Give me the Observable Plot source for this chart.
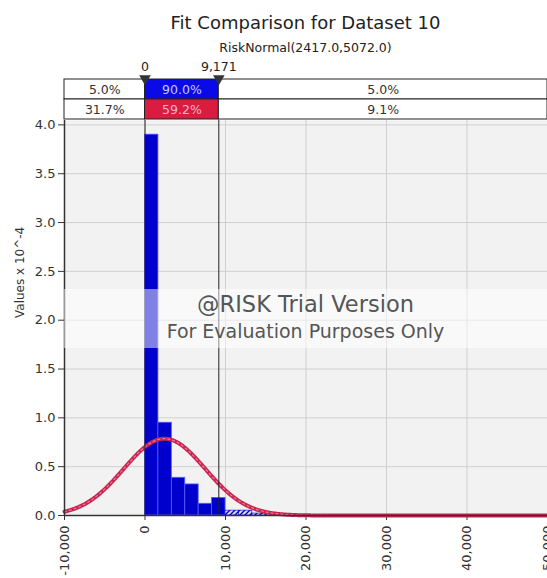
<!DOCTYPE html>
<html>
<head>
<meta charset="utf-8">
<script src="https://cdn.jsdelivr.net/npm/d3@7"></script>
<script src="https://cdn.jsdelivr.net/npm/@observablehq/plot@0.6"></script>
<style>
  html, body { margin: 0; padding: 0; background: #fff; }
  #chart { position: relative; width: 547px; height: 578px; overflow: hidden; font-family: "DejaVu Sans", sans-serif; }
  .abs { position: absolute; line-height: 1; white-space: nowrap; }
  .center { left: 64px; width: 483px; text-align: center; }
  #title { top: 14px; font-size: 18px; color: #222; }
  #subtitle { top: 42px; font-size: 12.5px; color: #222; }
  #strip { position: absolute; left: 0; top: 57px; }
  #main { position: absolute; left: 0; top: 120px; }
  #band { position: absolute; left: 64px; top: 289px; width: 483px; height: 59px; background: rgba(255,255,255,0.5); }
  #wm1 { top: 293px; font-size: 22.5px; color: #555; }
  #wm2 { top: 322px; font-size: 19px; color: #555; }
</style>
</head>
<body>
<div id="chart">
  <div id="title" class="abs center">Fit Comparison for Dataset 10</div>
  <div id="subtitle" class="abs center">RiskNormal(2417.0,5072.0)</div>
  <div id="strip"></div>
  <div id="main"></div>
  <div id="band"></div>
  <div id="wm1" class="abs center">@RISK Trial Version</div>
  <div id="wm2" class="abs center">For Evaluation Purposes Only</div>
</div>
<script>
// x extent and tick values
const xDomain = [-10000, 50000];
const xTicks = [-10000, 0, 10000, 20000, 30000, 40000, 50000];
const yTicks = [0, 0.5, 1.0, 1.5, 2.0, 2.5, 3.0, 3.5, 4.0];

// histogram of the input data (density, in units of 10^-4)
const binStart = 0;
const binWidth = 1667;
const binDensity = [3.90, 0.95, 0.386, 0.318, 0.12, 0.18, 0.05, 0.05, 0.02, 0.02];

// fitted normal distribution
const fitMean = 2417;
const fitSd = 5072;

// delimiters and the probability shares between them
const delimiters = [0, 9171];
const inputShares = ["5.0%", "90.0%", "5.0%"];
const fitShares = ["31.7%", "59.2%", "9.1%"];

const fmt = d => d.toLocaleString("en-US");

// bins
const bins = binDensity.map((d, i) => ({
  x1: binStart + i * binWidth,
  x2: binStart + (i + 1) * binWidth,
  d
}));
const solidBins = bins.filter(b => b.x1 < delimiters[1]);
const tailBins = bins.filter(b => b.x1 >= delimiters[1]);

// fitted density curve from the stated parameters
const curve = d3.range(xDomain[0], xDomain[1] + 1, 100).map(x => ({
  x,
  y: 1e4 * Math.exp(-0.5 * ((x - fitMean) / fitSd) ** 2) / (fitSd * Math.sqrt(2 * Math.PI))
}));

// cells of the delimiter table
const edges = [xDomain[0], ...delimiters, xDomain[1]];
const cells = [];
[["Input", inputShares], ["Fit", fitShares]].forEach(([row, shares]) => {
  shares.forEach((label, i) => cells.push({row, col: i, x1: edges[i], x2: edges[i + 1], label}));
});
const cellFill = d => d.col !== 1 ? "#ffffff" : d.row === "Input" ? "#0a0ae6" : "#d91c40";
const cellText = d => d.col !== 1 ? "#333" : d.row === "Input" ? "#c8c8ff" : "#f7b4c4";

const strip = Plot.plot({
  width: 547,
  height: 63,
  marginLeft: 64,
  marginRight: 0,
  marginTop: 22,
  marginBottom: 1,
  style: {fontFamily: "DejaVu Sans, sans-serif", fontSize: "12px", background: "transparent", overflow: "visible"},
  x: {domain: xDomain, axis: null},
  y: {domain: ["Input", "Fit"], axis: null, padding: 0},
  marks: [
    Plot.barX(cells, {x1: "x1", x2: "x2", y: "row", fill: cellFill, stroke: "#222", strokeWidth: 1, inset: 0}),
    Plot.text(cells, {x: d => (d.x1 + d.x2) / 2, y: "row", text: "label", fill: cellText, fontSize: 12.5}),
    Plot.dot(delimiters, {x: d => d, frameAnchor: "top", dy: -1, symbol: "triangle", rotate: 180, r: 4.3, fill: "#333", stroke: "none"}),
    Plot.text(delimiters, {x: d => d, frameAnchor: "top", dy: -9, lineAnchor: "bottom", text: fmt, fill: "#222", fontSize: 12.5})
  ]
});
document.getElementById("strip").append(strip);

const main = Plot.plot({
  width: 547,
  height: 458,
  marginLeft: 64,
  marginRight: 0,
  marginTop: 0,
  marginBottom: 63,
  style: {fontFamily: "DejaVu Sans, sans-serif", fontSize: "13px", background: "transparent", color: "#333", overflow: "visible"},
  x: {domain: xDomain, ticks: xTicks, tickFormat: fmt, tickRotate: -90, tickSize: 5, tickPadding: 5, label: null},
  y: {domain: [0, 4.045], ticks: yTicks, tickFormat: d => d.toFixed(1), tickSize: 6, tickPadding: 3, label: null},
  marks: [
    Plot.frame({fill: "#f2f2f2", stroke: "none"}),
    Plot.gridY(yTicks.filter(v => v > 0), {stroke: "#d0d0d0", strokeOpacity: 1}),
    Plot.gridX(xTicks.filter(v => v > xDomain[0] && v < xDomain[1]), {stroke: "#d0d0d0", strokeOpacity: 1}),
    Plot.rectY(solidBins, {x1: "x1", x2: "x2", y: "d", fill: "#0000cc", stroke: "#5a5aff", strokeWidth: 0.8, inset: 0}),
    Plot.rectY(tailBins, {x1: "x1", x2: "x2", y: "d", fill: "url(#hatch)", stroke: "#0000cc", strokeWidth: 0.6, inset: 0}),
    Plot.line(curve, {x: "x", y: "y", stroke: "#c92450", strokeWidth: 4}),
    Plot.line(curve, {x: "x", y: "y", stroke: "#ea7b96", strokeWidth: 1.2, strokeDasharray: "2,3"}),
    Plot.ruleX(delimiters, {stroke: "#222", strokeWidth: 1}),
    Plot.ruleY([0], {stroke: "#333", strokeWidth: 1.5}),
    Plot.ruleX([xDomain[0]], {stroke: "#333", strokeWidth: 1.5}),
    Plot.text(["Values x 10^-4"], {frameAnchor: "left", rotate: -90, dx: -44, text: d => d, fontSize: 12, fill: "#333"})
  ]
});

// diagonal hatching used for the upper-tail bins
const defs = d3.select(main).insert("defs", ":first-child");
const pat = defs.append("pattern")
  .attr("id", "hatch")
  .attr("patternUnits", "userSpaceOnUse")
  .attr("width", 5)
  .attr("height", 5);
pat.append("rect").attr("width", 5).attr("height", 5).attr("fill", "#dcdcf4");
pat.append("path")
  .attr("d", "M-1,1 l2,-2 M0,5 l5,-5 M4,6 l2,-2")
  .attr("stroke", "#0000cc")
  .attr("stroke-width", 1.4);

document.getElementById("main").append(main);
</script>
</body>
</html>
